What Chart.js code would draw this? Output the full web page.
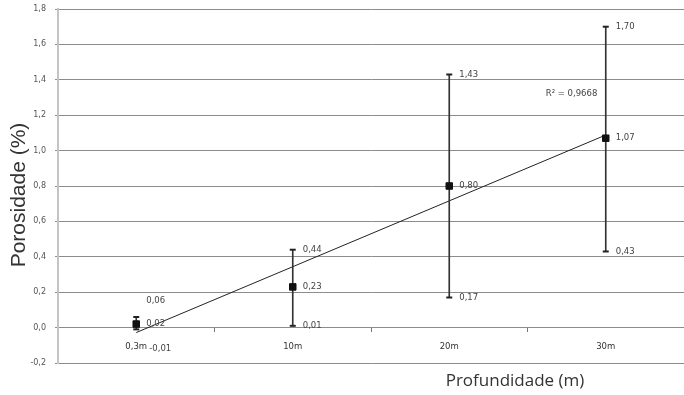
<!DOCTYPE html>
<html>
<head>
<meta charset="utf-8">
<script src="https://cdn.jsdelivr.net/npm/chart.js@4/dist/chart.umd.min.js"></script>
<style>
  html, body { margin: 0; padding: 0; background: #fff; }
  #wrap { width: 684px; height: 395px; position: relative; }
</style>
</head>
<body>
<div id="wrap"><canvas id="c"></canvas></div>
<script>
// Porosity by depth: mean with min/max range
const depths = ['0,3m', '10m', '20m', '30m'];
const porosityMean = [0.02, 0.23, 0.80, 1.07];
const porosityMin = [-0.01, 0.01, 0.17, 0.43];
const porosityMax = [0.06, 0.44, 1.43, 1.70];
const r2Text = 'R² = 0,9668';
const yAxisTitle = 'Porosidade (%)';
const xAxisTitle = 'Profundidade (m)';

// Linear least-squares trend over the category index
function linearFit(ys) {
  const n = ys.length;
  const xs = ys.map((_, i) => i);
  const mx = xs.reduce((a, b) => a + b, 0) / n;
  const my = ys.reduce((a, b) => a + b, 0) / n;
  let sxy = 0, sxx = 0;
  xs.forEach((x, i) => { sxy += (x - mx) * (ys[i] - my); sxx += (x - mx) * (x - mx); });
  const slope = sxy / sxx;
  const icpt = my - slope * mx;
  return xs.map(x => icpt + slope * x);
}
const trend = linearFit(porosityMean);

const fmt = v => v.toFixed(2).replace('.', ',');

// Value labels beside each mean marker and each error-bar cap
const valueLabels = {
  id: 'valueLabels',
  afterDatasetsDraw(chart) {
    const { ctx, scales: { x, y } } = chart;
    ctx.save();
    ctx.font = '8.5px "DejaVu Sans"';
    ctx.fillStyle = '#444';
    ctx.textBaseline = 'middle';
    ctx.textAlign = 'left';
    depths.forEach((_, i) => {
      const px = x.getPixelForValue(i);
      // first group is crowded near the axis, so its range labels are pushed apart
      const crowded = i === 0;
      ctx.fillText(fmt(porosityMean[i]), px + 10, y.getPixelForValue(porosityMean[i]));
      ctx.fillText(fmt(porosityMax[i]), px + 10, y.getPixelForValue(porosityMax[i]) + (crowded ? -16 : 0));
      ctx.fillText(fmt(porosityMin[i]), px + (crowded ? 13 : 10), y.getPixelForValue(porosityMin[i]) + (crowded ? 19 : 0));
    });
    const last = depths.length - 1;
    ctx.fillText(r2Text, x.getPixelForValue(last) - 60, y.getPixelForValue(1.32));
    ctx.restore();
  }
};

// Axis titles placed around the plot area
const axisTitles = {
  id: 'axisTitles',
  afterDraw(chart) {
    const { ctx, chartArea } = chart;
    ctx.save();
    ctx.fillStyle = '#333';
    ctx.textAlign = 'center';
    ctx.textBaseline = 'middle';
    ctx.font = '21px "Liberation Sans"';
    ctx.translate(chartArea.left - 39, chartArea.top + 186);
    ctx.rotate(-Math.PI / 2);
    ctx.fillText(yAxisTitle, 0, 0);
    ctx.restore();

    ctx.save();
    ctx.fillStyle = '#333';
    ctx.textAlign = 'center';
    ctx.textBaseline = 'middle';
    ctx.font = '17px "Open Sans"';
    ctx.fillText(xAxisTitle, chartArea.left + 457, chartArea.bottom + 18);
    ctx.restore();
  }
};

new Chart(document.getElementById('c'), {
  data: {
    labels: depths,
    datasets: [
      {
        type: 'line',
        label: 'Média',
        data: porosityMean,
        showLine: false,
        pointStyle: 'rect',
        pointRadius: 4.6,
        pointBackgroundColor: '#111',
        pointBorderColor: '#111',
        pointBorderWidth: 1,
        order: 0
      },
      {
        type: 'line',
        label: 'Máximo',
        data: porosityMax,
        showLine: false,
        pointStyle: 'line',
        pointRadius: 3,
        pointBorderColor: '#222',
        pointBorderWidth: 2,
        order: 1
      },
      {
        type: 'line',
        label: 'Mínimo',
        data: porosityMin,
        showLine: false,
        pointStyle: 'line',
        pointRadius: 3,
        pointBorderColor: '#222',
        pointBorderWidth: 2,
        order: 1
      },
      {
        type: 'bar',
        label: 'Intervalo',
        data: depths.map((_, i) => [porosityMin[i], porosityMax[i]]),
        backgroundColor: '#333',
        borderWidth: 0,
        barThickness: 1,
        order: 2
      },
      {
        type: 'line',
        label: 'Linear',
        data: trend,
        borderColor: '#222',
        borderWidth: 1,
        pointRadius: 0,
        fill: false,
        order: 3
      }
    ]
  },
  options: {
    responsive: true,
    maintainAspectRatio: false,
    animation: false,
    events: [],
    layout: { autoPadding: false, padding: { top: 9, right: 0, bottom: 32, left: 0 } },
    plugins: {
      legend: { display: false },
      tooltip: { enabled: false },
      title: { display: false }
    },
    scales: {
      x: {
        type: 'category',
        position: { y: 0 },
        offset: true,
        afterFit(scale) {
          scale.paddingTop = 0; scale.paddingBottom = 0;
          scale.paddingLeft = 0; scale.paddingRight = 0;
        },
        grid: {
          display: true,
          drawOnChartArea: false,
          drawTicks: true,
          tickLength: 4,
          offset: true,
          color: '#777'
        },
        border: { display: true, color: '#8c8c8c', width: 1 },
        ticks: {
          font: { family: 'DejaVu Sans', size: 8.5 },
          color: '#333',
          padding: 10,
          maxRotation: 0
        }
      },
      y: {
        min: -0.2,
        max: 1.8,
        afterFit(scale) { scale.width = 58; scale.paddingTop = 0; scale.paddingBottom = 0; },
        grid: { color: '#8c8c8c', lineWidth: 1, tickLength: 3 },
        border: { display: true, color: '#c4c4c4', width: 2 },
        ticks: {
          stepSize: 0.2,
          padding: 9,
          font: { family: 'DejaVu Sans', size: 8 },
          color: '#555',
          callback: v => Number(v).toFixed(1).replace('.', ',')
        }
      }
    }
  },
  plugins: [valueLabels, axisTitles]
});
</script>
</body>
</html>
